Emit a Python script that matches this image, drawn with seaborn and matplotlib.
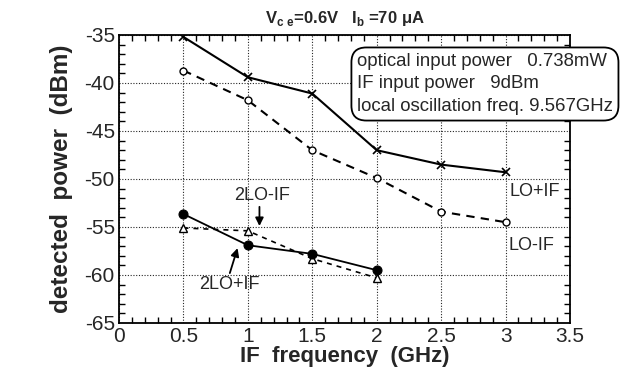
import matplotlib
matplotlib.use("Agg")
import matplotlib.pyplot as plt
import seaborn as sns
import pandas as pd
from matplotlib.ticker import MultipleLocator

# ---- data ----
freq_lo = [0.5, 1.0, 1.5, 2.0, 2.5, 3.0]
lo_plus_if = [-35.2, -39.4, -41.1, -47.0, -48.5, -49.3]
lo_minus_if = [-38.7, -41.8, -47.0, -49.9, -53.4, -54.5]
freq_2lo = [0.5, 1.0, 1.5, 2.0]
two_lo_plus_if = [-53.65, -56.9, -57.8, -59.5]
two_lo_minus_if = [-55.1, -55.4, -58.3, -60.3]

x_ticks = [0, 0.5, 1, 1.5, 2, 2.5, 3, 3.5]
y_ticks = [-65, -60, -55, -50, -45, -40, -35]

sns.set_theme(style="ticks")
plt.rcParams['font.family'] = ['Liberation Sans', 'DejaVu Sans']
plt.rcParams['mathtext.fontset'] = 'custom'
plt.rcParams['mathtext.rm'] = 'Liberation Sans'
plt.rcParams['mathtext.bf'] = 'Liberation Sans:bold'

fig = plt.figure(figsize=(6.24, 3.82), dpi=100)
ax = fig.add_axes([119/624, 1-323/382, (570-119)/624, (323-35)/382])

df1 = pd.DataFrame({"f": freq_lo, "p": lo_plus_if})
df2 = pd.DataFrame({"f": freq_lo, "p": lo_minus_if})
df3 = pd.DataFrame({"f": freq_2lo, "p": two_lo_plus_if})
df4 = pd.DataFrame({"f": freq_2lo, "p": two_lo_minus_if})

sns.lineplot(data=df1, x="f", y="p", ax=ax, color="black", lw=1.5,
             marker="x", markersize=6, mew=1.2, markeredgecolor="black", zorder=5)
sns.lineplot(data=df2, x="f", y="p", ax=ax, color="black", lw=1.5,
             linestyle=(0, (4, 3)), marker="o", markersize=5,
             markerfacecolor="white", markeredgecolor="black", mew=1.0, zorder=5)
sns.lineplot(data=df4, x="f", y="p", ax=ax, color="black", lw=1.2,
             linestyle=(0, (3, 3)), marker="^", markersize=6,
             markerfacecolor="white", markeredgecolor="black", mew=1.0, zorder=5)
sns.lineplot(data=df3, x="f", y="p", ax=ax, color="black", lw=1.3,
             marker="o", markersize=6.5, markerfacecolor="black",
             markeredgecolor="black", zorder=6)

ax.set_xlim(0, 3.5)
ax.set_ylim(-65, -35)
ax.set_xticks(x_ticks)
ax.set_xticklabels([f"{t:g}" for t in x_ticks])
ax.set_yticks(y_ticks)
ax.set_yticklabels([f"{t:g}" for t in y_ticks])
ax.xaxis.set_minor_locator(MultipleLocator(0.1))
ax.yaxis.set_minor_locator(MultipleLocator(1))
ax.tick_params(which="both", direction="in", top=True, right=True, color="black")
ax.tick_params(which="major", length=0, labelsize=15, pad=3)
ax.tick_params(which="minor", length=4, width=1.0)
for s in ax.spines.values():
    s.set_linewidth(1.3)
    s.set_color("black")
ax.grid(True, which="major", linestyle=(0, (1, 1.5)), color="black", lw=0.8, alpha=0.85)

ax.set_xlabel("IF  frequency  (GHz)", fontsize=16, fontweight="bold", labelpad=0)
ax.set_ylabel("detected  power  (dBm)", fontsize=17.5, fontweight="bold", labelpad=8)

fig.text(345/624, 1-18/382, r"V$_{\mathbf{c\ e}}$=0.6V   I$_{\mathbf{b}}$ =70 $\mathbf{\mu}$A",
         ha="center", va="center", fontsize=12, fontweight="bold")

# info box
fig.text(357/624, 1-84/382,
         "optical input power   0.738mW\nIF input power   9dBm\nlocal oscillation freq. 9.567GHz",
         ha="left", va="center", fontsize=13.4, linespacing=1.42,
         bbox=dict(boxstyle="round,pad=0.3,rounding_size=0.8", fc="white", ec="black", lw=1.3))

# annotations
arrow_kw = dict(arrowstyle="-|>", color="black", lw=1.3, shrinkA=0, shrinkB=0, mutation_scale=12)
ax.annotate("", xy=(1.09, -54.9), xytext=(1.09, -52.9), arrowprops=arrow_kw)
ax.text(1.11, -51.75, "2LO-IF", ha="center", va="center", fontsize=13)
ax.annotate("", xy=(0.92, -57.2), xytext=(0.86, -59.8), arrowprops=arrow_kw)
ax.text(0.86, -61.0, "2LO+IF", ha="center", va="center", fontsize=13)
ax.text(3.03, -51.35, "LO+IF", ha="left", va="center", fontsize=13)
ax.text(3.02, -56.9, "LO-IF", ha="left", va="center", fontsize=13)

fig.savefig("out.png", dpi=100)
